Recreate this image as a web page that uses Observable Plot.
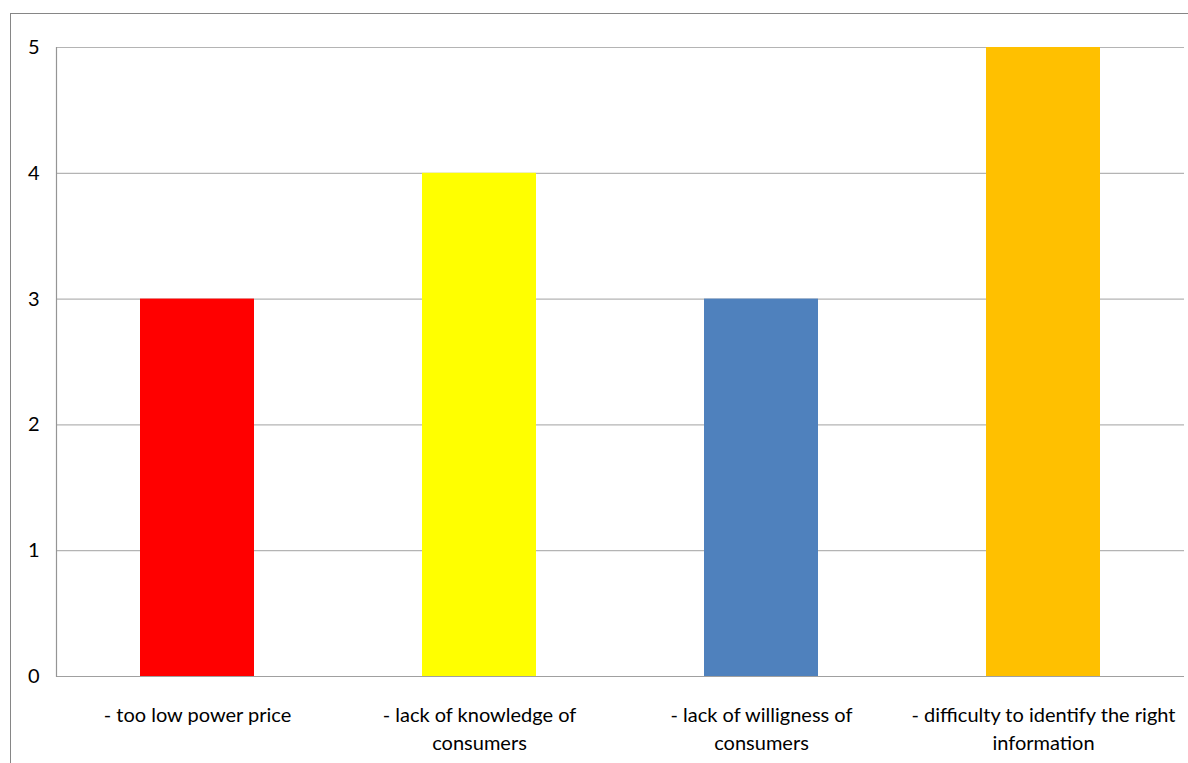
<!DOCTYPE html>
<html>
<head>
<meta charset="utf-8">
<script src="https://cdn.jsdelivr.net/npm/d3@7"></script>
<script src="https://cdn.jsdelivr.net/npm/@observablehq/plot@0.6"></script>
<style>
  html, body { margin: 0; padding: 0; background: #fff; }
  #wrap { position: relative; width: 1188px; height: 763px; overflow: hidden; }
  #border {
    position: absolute; left: 10px; top: 13px; width: 1300px; height: 900px;
    border: 1px solid #868686; box-sizing: border-box;
  }
  #chart { position: absolute; left: 0; top: 0; }
</style>
</head>
<body>
<div id="wrap">
  <div id="border"></div>
  <div id="chart"></div>
</div>
<script>
// Barriers and their scores
const categories = [
  "- too low power price",
  "- lack of knowledge of\nconsumers",
  "- lack of willigness of\nconsumers",
  "- difficulty to identify the right\ninformation"
];
const values = [3, 4, 3, 5];
const colors = ["#ff0000", "#ffff00", "#4f81bd", "#ffc000"];
const yTicks = [0, 1, 2, 3, 4, 5];

const data = categories.map((c, i) => ({category: c, value: values[i], color: colors[i]}));

const chart = Plot.plot({
  width: 1188,
  height: 763,
  marginLeft: 56,
  marginRight: 4,
  marginTop: 47,
  marginBottom: 87,
  style: {fontFamily: "Lato, 'Open Sans', sans-serif", fontSize: "20px", color: "#000", background: "transparent"},
  x: {domain: categories, paddingInner: 0.596, paddingOuter: 0.298, label: null},
  y: {domain: [0, 5], label: null},
  marks: [
    Plot.ruleY(yTicks.filter(d => d > 0), {stroke: "#b4b4b4", strokeWidth: 1.2}),
    Plot.barY(data, {x: "category", y: "value", fill: "color"}),
    Plot.ruleY([0], {stroke: "#a0a0a0", strokeWidth: 1.2}),
    Plot.frame({anchor: "left", stroke: "#959595", strokeWidth: 1.2}),
    Plot.axisY({ticks: yTicks, tickSize: 0, tickPadding: 17, fontSize: 20, label: null, tickFormat: d => String(d)}),
    Plot.axisX({tickSize: 0, tickPadding: 26, fontSize: 20, lineHeight: 1.4, label: null})
  ]
});
document.getElementById("chart").appendChild(chart);
</script>
</body>
</html>
